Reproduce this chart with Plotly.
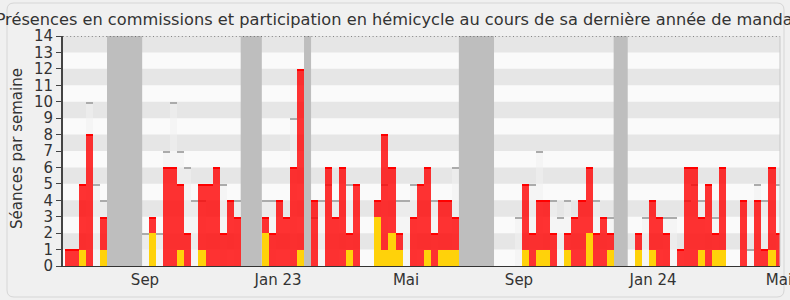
import plotly.graph_objects as go

# ---- data (one bar per week) ----
weeks = list(range(102))

commission = [1, 1, 5, 8, 0, 3, 0, 0, 0, 0,
              0, 0, 3, 0, 6, 6, 5, 2, 0, 5,
              5, 6, 2, 4, 3, 0, 0, 0, 3, 2,
              4, 3, 6, 12, 0, 4, 0, 6, 3, 6,
              2, 5, 0, 0, 4, 8, 6, 2, 0, 3,
              5, 6, 2, 4, 4, 3, 0, 0, 0, 0,
              0, 0, 0, 0, 0, 5, 2, 4, 4, 2,
              0, 2, 3, 4, 6, 2, 3, 2, 0, 0,
              0, 2, 0, 4, 3, 2, 0, 1, 6, 6,
              3, 5, 2, 6, 0, 0, 4, 0, 4, 1,
              6, 2]

interventions = [0, 0, 1, 0, 0, 1, 0, 0, 0, 0,
                 0, 0, 2, 0, 0, 0, 1, 0, 0, 1,
                 0, 0, 0, 0, 0, 0, 0, 0, 2, 0,
                 0, 0, 0, 1, 0, 0, 0, 0, 0, 0,
                 1, 0, 0, 0, 3, 1, 2, 1, 0, 0,
                 0, 1, 0, 1, 1, 1, 0, 0, 0, 0,
                 0, 0, 0, 0, 0, 1, 0, 1, 1, 0,
                 0, 1, 0, 0, 2, 0, 0, 1, 0, 0,
                 0, 1, 0, 1, 0, 0, 0, 0, 0, 0,
                 1, 0, 1, 1, 0, 0, 0, 0, 0, 0,
                 1, 0]

hemicycle = [0, 0, 0, 10, 5, 4, 0, 0, 0, 0,
             0, 2, 0, 2, 7, 10, 7, 6, 4, 4,
             0, 0, 5, 0, 4, 0, 0, 0, 4, 4,
             0, 0, 9, 0, 0, 3, 4, 5, 4, 0,
             5, 0, 0, 0, 0, 5, 0, 4, 4, 5,
             0, 0, 4, 0, 0, 6, 0, 0, 0, 0,
             0, 0, 0, 0, 3, 0, 5, 7, 0, 4,
             3, 4, 0, 0, 0, 4, 0, 3, 0, 0,
             0, 0, 3, 0, 0, 3, 3, 0, 4, 5,
             4, 0, 3, 0, 0, 0, 0, 1, 5, 4,
             0, 5]

holiday_weeks = [6, 7, 8, 9, 10, 25, 26, 27, 34, 56, 57, 58, 59, 60, 78, 79]

tick_positions = [10.9, 29.8, 48.0, 64.05, 83.1, 101.0]
tick_labels = ["Sep", "Jan 23", "Mai", "Sep", "Jan 24", "Mai"]

title_text = ("Présences en commissions et participation en hémicycle "
              "au cours de sa dernière année de mandat")
y_title = "Séances par semaine"

FONT = "DejaVu Sans"
EDGE = 0.08  # thickness of the top edge line, in data units

fig = go.Figure()


def nz(values):
    return [v if v > 0 else None for v in values]


def edge_base(values):
    return [v - EDGE if v > 0 else None for v in values]


def edge_len(values):
    return [EDGE if v > 0 else None for v in values]


# hemicycle (light grey) bars + their top edge
fig.add_trace(go.Bar(x=weeks, y=nz(hemicycle), width=1,
                     marker=dict(color="rgba(240,240,240,0.55)", line=dict(width=0)),
                     hoverinfo="skip"))
fig.add_trace(go.Bar(x=weeks, y=edge_len(hemicycle), base=edge_base(hemicycle), width=1,
                     marker=dict(color="#ababab", line=dict(width=0)),
                     hoverinfo="skip"))
# commission presence (red) + top edge
fig.add_trace(go.Bar(x=weeks, y=nz(commission), width=1,
                     marker=dict(color="rgba(255,0,0,0.8)", line=dict(width=0)),
                     hoverinfo="skip"))
fig.add_trace(go.Bar(x=weeks, y=edge_len(commission), base=edge_base(commission), width=1,
                     marker=dict(color="#ff0000", line=dict(width=0)),
                     hoverinfo="skip"))
# interventions (yellow)
fig.add_trace(go.Bar(x=weeks, y=nz(interventions), width=1,
                     marker=dict(color="#ffd20a", line=dict(width=0)),
                     hoverinfo="skip"))

shapes = []
# holiday bands (merge consecutive weeks)
runs = []
for w in holiday_weeks:
    if runs and w == runs[-1][1] + 1:
        runs[-1][1] = w
    else:
        runs.append([w, w])
for a, b in runs:
    shapes.append(dict(type="rect", xref="x", yref="y", x0=a - 0.5, x1=b + 0.5,
                       y0=0, y1=14, fillcolor="#bebebe", line=dict(width=0),
                       layer="below"))
# horizontal stripes
for k in range(1, 14, 2):
    shapes.append(dict(type="rect", xref="paper", yref="y", x0=0, x1=1,
                       y0=k, y1=k + 1, fillcolor="rgba(0,0,0,0.08)",
                       line=dict(width=0), layer="below"))
# top dotted line
shapes.append(dict(type="line", xref="paper", yref="y", x0=0, x1=1, y0=14, y1=14,
                   line=dict(color="#222222", width=1, dash="1px,2.6px")))
# right border of plot area
shapes.append(dict(type="line", xref="paper", yref="y", x0=1, x1=1, y0=0, y1=14,
                   line=dict(color="#c8c8c8", width=1)))

# outer rounded frame (paper coordinates)
L, R, T, B = 63.0, 780.0, 36.0, 266.0
W, H = R - L, B - T


def px(x):
    return (x - L) / W


def py(y):
    return (B - y) / H


fx0, fx1, fy0, fy1, rad = 7, 784, 3, 297, 7
path = (f"M {px(fx0 + rad)},{py(fy0)} L {px(fx1 - rad)},{py(fy0)} "
        f"Q {px(fx1)},{py(fy0)} {px(fx1)},{py(fy0 + rad)} "
        f"L {px(fx1)},{py(fy1 - rad)} Q {px(fx1)},{py(fy1)} {px(fx1 - rad)},{py(fy1)} "
        f"L {px(fx0 + rad)},{py(fy1)} Q {px(fx0)},{py(fy1)} {px(fx0)},{py(fy1 - rad)} "
        f"L {px(fx0)},{py(fy0 + rad)} Q {px(fx0)},{py(fy0)} {px(fx0 + rad)},{py(fy0)} Z")
shapes.append(dict(type="path", xref="paper", yref="paper", path=path,
                   line=dict(color="#d6d6d6", width=1), fillcolor="rgba(0,0,0,0)",
                   layer="below"))

fig.update_layout(
    width=790, height=300, autosize=False,
    margin=dict(l=63, r=10, t=36, b=34, pad=0, autoexpand=False),
    paper_bgcolor="#f0f0f0", plot_bgcolor="#fafafa",
    barmode="overlay", bargap=0, showlegend=False,
    font=dict(family=FONT, size=15, color="#333333"),
    title=dict(text=title_text, font=dict(family=FONT, size=16.2, color="#333333"),
               x=0.503, xref="container", xanchor="center",
               y=1 - 19 / 300, yref="container", yanchor="middle"),
    xaxis=dict(range=[-0.753, 101.14], tickmode="array", tickvals=tick_positions,
               ticktext=tick_labels, showgrid=False, zeroline=False,
               showline=True, linecolor="#333333", linewidth=1, ticks="",
               ticklabeloverflow="allow", automargin=False,
               tickfont=dict(family=FONT, size=15, color="#333333"), fixedrange=True),
    yaxis=dict(range=[0, 14], tick0=0, dtick=1, showgrid=False, zeroline=False,
               showline=True, linecolor="#444444", linewidth=2, automargin=False,
               ticks="outside", ticklen=5, tickcolor="#444444", tickwidth=1,
               tickfont=dict(family=FONT, size=15, color="#333333"), fixedrange=True),
    shapes=shapes,
    annotations=[dict(text=y_title, textangle=-90, xref="paper", yref="paper",
                      x=px(17), y=py(149), xanchor="center", yanchor="middle",
                      showarrow=False, font=dict(family=FONT, size=15, color="#333333"))],
)

fig.write_html("out.html")
